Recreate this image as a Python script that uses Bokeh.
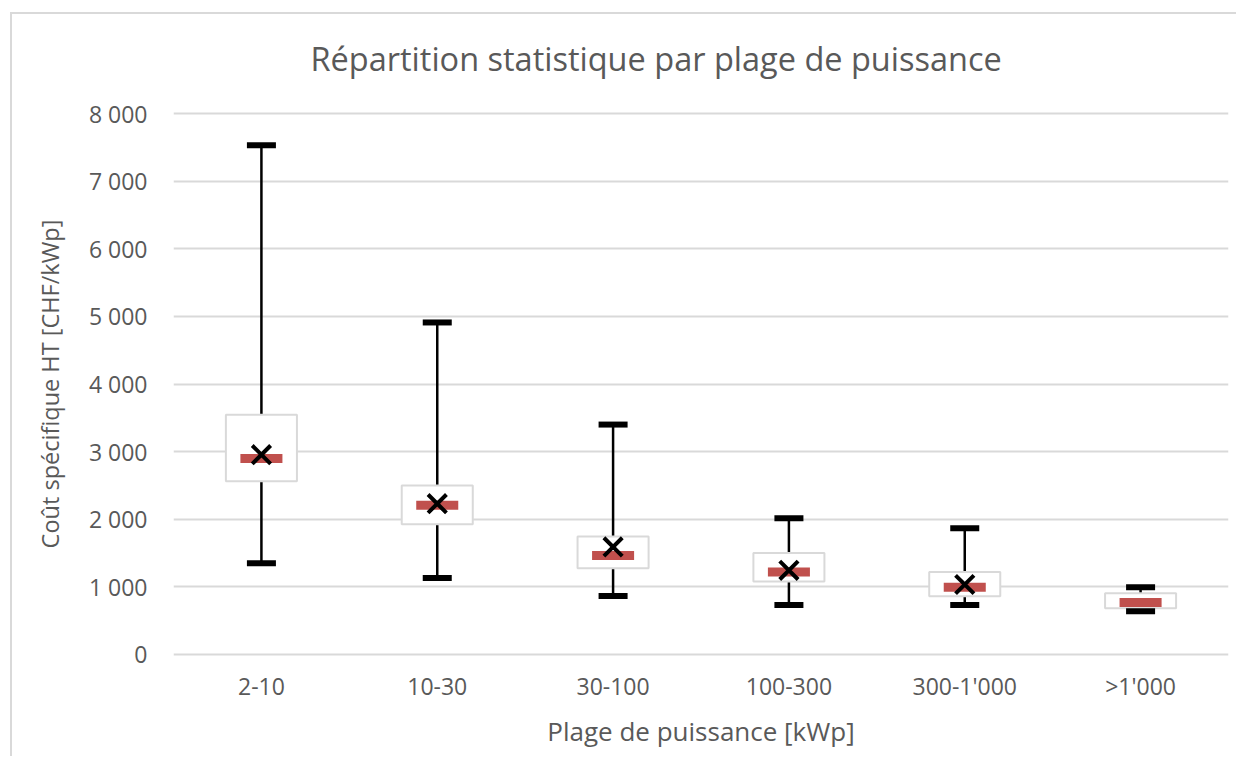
from bokeh.plotting import figure
from bokeh.models import FactorRange, Range1d, FixedTicker
from bokeh.embed import file_html
from bokeh.resources import INLINE

# ---- data ----
categories = ["2-10", "10-30", "30-100", "100-300", "300-1'000", ">1'000"]
whisker_max = [7530, 4910, 3400, 2015, 1865, 995]
q3 = [3545, 2500, 1745, 1500, 1220, 905]
median = [2900, 2205, 1465, 1220, 995, 770]
q1 = [2560, 1925, 1275, 1080, 860, 685]
whisker_min = [1350, 1130, 865, 730, 730, 640]
mean = [2955, 2230, 1590, 1245, 1035, float("nan")]
y_ticks = [0, 1000, 2000, 3000, 4000, 5000, 6000, 7000, 8000]
y_tick_labels = ["0", "1 000", "2 000", "3 000", "4 000", "5 000", "6 000", "7 000", "8 000"]

title_text = "Répartition statistique par plage de puissance"
x_label = "Plage de puissance [kWp]"
y_label = "Coût spécifique HT [CHF/kWp]"

FONT = "Open Sans"
TEXT = "#595959"
GRID = "#d9d9d9"

p = figure(
    width=1236, height=756,
    x_range=FactorRange(factors=categories),
    y_range=Range1d(-30, 8030),
    output_backend="svg", toolbar_location=None,
    min_border_left=173, min_border_right=8, min_border_top=111, min_border_bottom=100,
    title=title_text,
)
p.outline_line_color = None
p.background_fill_color = "white"
p.border_fill_color = None
# chart-area border: left and top edges, drawn as the page background behind the canvas
p.styles = {
    "background": (
        "linear-gradient(#d9d9d9,#d9d9d9) 10px 12px / 2px 100% no-repeat, "
        "linear-gradient(#d9d9d9,#d9d9d9) 10px 12px / 100% 2px no-repeat, white"
    )
}

p.title.text_font = FONT
p.title.text_font_size = "32.5px"
p.title.text_font_style = "normal"
p.title.text_color = TEXT
p.title.align = "left"
p.title.offset = 137
p.title.standoff = 62

# axes
p.yaxis.ticker = FixedTicker(ticks=y_ticks)
p.yaxis.major_label_overrides = {t: l for t, l in zip(y_ticks, y_tick_labels)}
for ax in (p.xaxis[0], p.yaxis[0]):
    ax.axis_line_color = None
    ax.major_tick_line_color = None
    ax.minor_tick_line_color = None
    ax.major_tick_in = 0
    ax.major_tick_out = 0
    ax.major_label_text_font = FONT
    ax.major_label_text_font_size = "23px"
    ax.major_label_text_color = TEXT
    ax.axis_label_text_font = FONT
    ax.axis_label_text_color = TEXT
    ax.axis_label_text_font_style = "normal"
p.yaxis.axis_label_text_font_size = "23.5px"
p.xaxis.axis_label_text_font_size = "26px"
p.yaxis.major_label_standoff = 26
p.xaxis.major_label_standoff = 13
p.yaxis.axis_label = y_label
p.xaxis.axis_label = x_label
p.yaxis.axis_label_standoff = 20
p.xaxis.axis_label_standoff = 8

p.xgrid.grid_line_color = None
p.ygrid.grid_line_color = GRID
p.ygrid.grid_line_width = 2

# whiskers
p.segment(x0=categories, y0=whisker_min, x1=categories, y1=whisker_max,
          line_color="black", line_width=2.5)
# boxes
p.vbar(x=categories, bottom=q1, top=q3, width=0.404,
       fill_color="white", line_color=GRID, line_width=2)
# median
p.rect(x=categories, y=median, width=0.239, height=9, height_units="screen",
       fill_color="#c0504d", line_color=None)
# caps
p.rect(x=categories, y=whisker_max, width=0.165, height=6, height_units="screen",
       fill_color="black", line_color=None)
p.rect(x=categories, y=whisker_min, width=0.165, height=6, height_units="screen",
       fill_color="black", line_color=None)
# mean
p.scatter(x=categories, y=mean, marker="x", size=26, line_color="black", line_width=4)

open("out.html", "w").write(file_html(p, INLINE))
